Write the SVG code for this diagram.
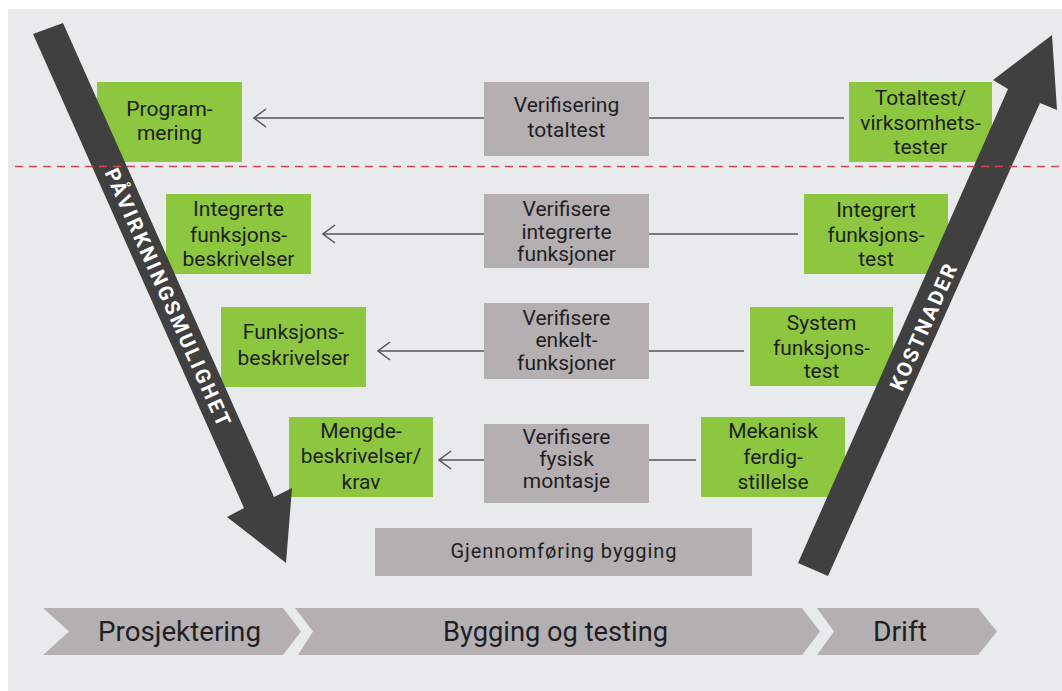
<svg xmlns="http://www.w3.org/2000/svg" width="1062" height="691" viewBox="0 0 1062 691">
<defs>
<style>
.bg{fill:#e9eaec}
.g{fill:#8dc63f}
.gr{fill:#b4b0b1}
.t{font-family:Roboto,"Liberation Sans",sans-serif;font-size:21px;fill:#1e1e24;text-anchor:middle}
.ph{font-family:Roboto,"Liberation Sans",sans-serif;font-size:27px;fill:#1e1e28;text-anchor:middle}
.big{fill:#404040}
.rt{font-family:Roboto,"Liberation Sans",sans-serif;font-size:20.5px;font-weight:bold;fill:#ffffff;text-anchor:middle}
.c{stroke:#555555;stroke-width:1.5;fill:none}
</style>
<marker id="ah" viewBox="0 0 14 20" refX="13" refY="10" markerWidth="14" markerHeight="20" markerUnits="userSpaceOnUse" orient="auto">
<path d="M1,1 L13,10 L1,19" fill="none" stroke="#555555" stroke-width="1.5"/>
</marker>
</defs>
<rect class="bg" x="8" y="9" width="1054" height="682"/>

<g id="connectors">
<line class="c" x1="844" y1="118" x2="254" y2="118" marker-end="url(#ah)"/>
<line class="c" x1="798" y1="234" x2="323" y2="234" marker-end="url(#ah)"/>
<line class="c" x1="744" y1="351" x2="378" y2="351" marker-end="url(#ah)"/>
<line class="c" x1="696" y1="460" x2="439" y2="460" marker-end="url(#ah)"/>
</g>

<g id="verif-totaltest"><rect class="gr" x="484" y="82" width="165" height="74"/>
<text class="t" x="566.5" y="112">Verifisering</text><text class="t" x="566.5" y="137">totaltest</text></g>
<g id="verif-integrerte"><rect class="gr" x="484" y="194" width="165" height="74"/>
<text class="t" x="566.5" y="216">Verifisere</text><text class="t" x="566.5" y="239">integrerte</text><text class="t" x="566.5" y="261">funksjoner</text></g>
<g id="verif-enkelt"><rect class="gr" x="484" y="303" width="165" height="76"/>
<text class="t" x="566.5" y="325">Verifisere</text><text class="t" x="566.5" y="347">enkelt-</text><text class="t" x="566.5" y="370">funksjoner</text></g>
<g id="verif-fysisk"><rect class="gr" x="484" y="424" width="165" height="79"/>
<text class="t" x="566.5" y="444">Verifisere</text><text class="t" x="566.5" y="466">fysisk</text><text class="t" x="566.5" y="488">montasje</text></g>
<g id="gjennomforing"><rect class="gr" x="375" y="528" width="377" height="48"/>
<text class="t" x="563.5" y="558" style="font-size:20px" textLength="226" lengthAdjust="spacing">Gjennomføring bygging</text></g>

<g id="programmering"><rect class="g" x="97" y="82" width="145" height="80"/>
<text class="t" x="169.5" y="116">Program-</text><text class="t" x="169.5" y="140">mering</text></g>
<g id="integrerte-beskr"><rect class="g" x="166" y="194" width="145" height="80"/>
<text class="t" x="238.5" y="216">Integrerte</text><text class="t" x="238.5" y="242">funksjons-</text><text class="t" x="238.5" y="266">beskrivelser</text></g>
<g id="funksjons-beskr"><rect class="g" x="221" y="307" width="145" height="80"/>
<text class="t" x="293.5" y="339">Funksjons-</text><text class="t" x="293.5" y="365">beskrivelser</text></g>
<g id="mengde"><rect class="g" x="289" y="417" width="144" height="80"/>
<text class="t" x="361" y="438">Mengde-</text><text class="t" x="361" y="463">beskrivelser/</text><text class="t" x="361" y="489">krav</text></g>

<g id="totaltest"><rect class="g" x="849" y="82" width="143" height="80"/>
<text class="t" x="920.5" y="105">Totaltest/</text><text class="t" x="920.5" y="130">virksomhets-</text><text class="t" x="920.5" y="154">tester</text></g>
<g id="integrert-test"><rect class="g" x="804" y="194" width="144" height="80"/>
<text class="t" x="876" y="217">Integrert</text><text class="t" x="876" y="242">funksjons-</text><text class="t" x="876" y="266">test</text></g>
<g id="system-test"><rect class="g" x="750" y="307" width="143" height="79"/>
<text class="t" x="821.5" y="330">System</text><text class="t" x="821.5" y="355">funksjons-</text><text class="t" x="821.5" y="378">test</text></g>
<g id="mekanisk"><rect class="g" x="701" y="417" width="144" height="80"/>
<text class="t" x="773" y="438">Mekanisk</text><text class="t" x="773" y="464">ferdig-</text><text class="t" x="773" y="489">stillelse</text></g>

<g id="pavirkning">
<polygon class="big" points="33,34 63,23 274,497 292,488 286,563 227,517 244,508"/>
<text class="rt" transform="translate(168,297) rotate(66)" x="0" y="7.5" textLength="280" lengthAdjust="spacing">PÅVIRKNINGSMULIGHET</text>
</g>
<g id="kostnader">
<polygon class="big" points="798,563 828,576 1040,103 1057,110 1052,35 993,80 1008,89"/>
<text class="rt" transform="translate(923,327) rotate(-66)" x="0" y="7.5" textLength="136" lengthAdjust="spacing">KOSTNADER</text>
</g>

<line x1="15" y1="166.5" x2="1062" y2="166.5" stroke="#d9434e" stroke-width="1.3" stroke-dasharray="8,6"/>

<g id="prosjektering"><polygon class="gr" points="43,608 283,608 301,631.5 283,655 43,655 69,631.5"/>
<text class="ph" x="179.5" y="641" textLength="163" lengthAdjust="spacingAndGlyphs">Prosjektering</text></g>
<g id="bygging"><polygon class="gr" points="295,608 802,608 820,631.5 802,655 298,655 313,631.5"/>
<text class="ph" x="555.5" y="641" textLength="225" lengthAdjust="spacingAndGlyphs">Bygging og testing</text></g>
<g id="drift"><polygon class="gr" points="817,608 978,608 997,631.5 978,655 817,655 834,631.5"/>
<text class="ph" x="900" y="641" textLength="54" lengthAdjust="spacingAndGlyphs">Drift</text></g>
</svg>
